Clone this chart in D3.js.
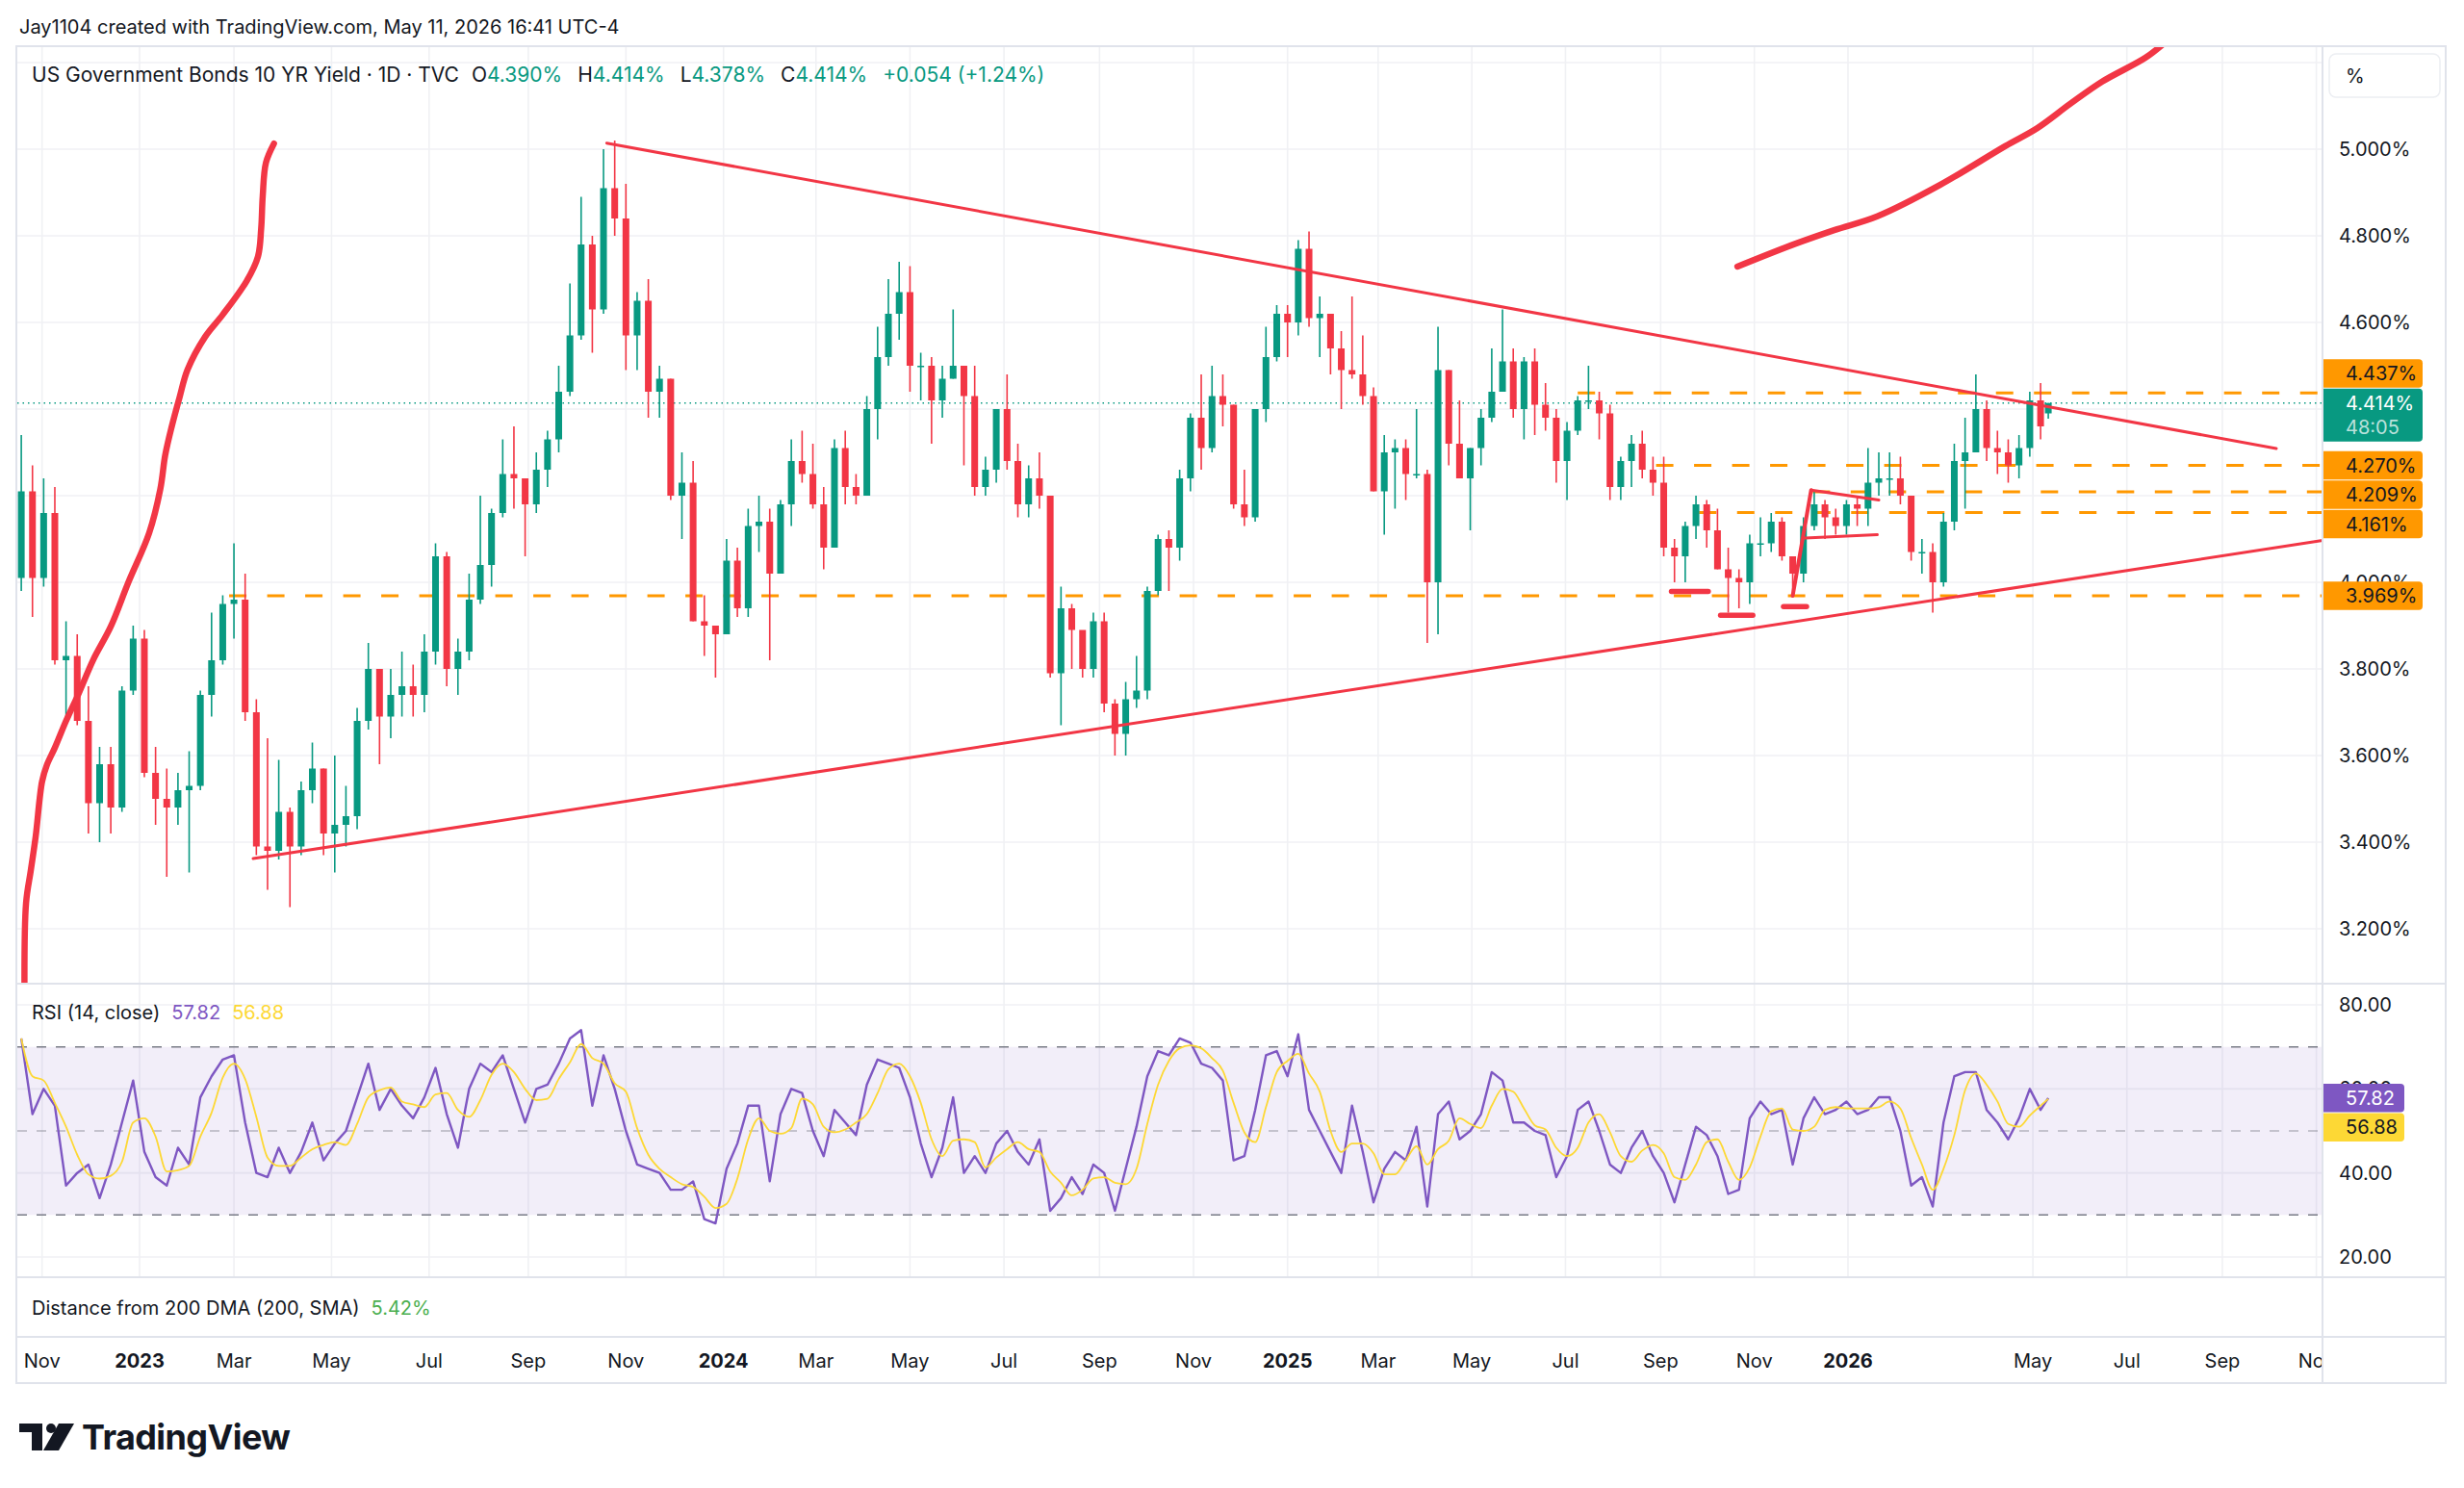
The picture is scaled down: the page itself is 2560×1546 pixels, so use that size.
<!DOCTYPE html>
<html>
<head>
<meta charset="utf-8">
<script src="https://cdn.jsdelivr.net/npm/d3@7/dist/d3.min.js"></script>
<style>
  body { margin: 0; background: #fff; }
  text { font-family: Inter, "Noto Sans", sans-serif; fill: #131722; }
</style>
</head>
<body>
<svg id="chart"></svg>
<script>
// ---- weekly bars, US10Y (TVC): Oct 17 2022 .. May 11 2026 ----
const firstWeek = "2022-10-17";
const lastSession = "2026-05-11";
const firstOpen = 4.01;
const lastOpen = 4.390;

const weekClose = [
  4.21,4.01,4.16,3.82,3.83,3.68,3.49,3.58,3.48,3.75,3.87,
  3.56,3.50,3.48,3.52,3.53,3.74,3.82,3.95,3.96,3.70,3.39,3.38,3.47,3.39,3.52,3.57,3.42,3.44,3.46,3.68,3.80,3.69,3.74,3.76,3.74,3.84,4.06,3.80,3.84,3.96,4.04,4.16,4.25,4.24,4.18,4.26,4.33,4.44,4.57,4.78,4.63,4.91,4.84,4.57,4.65,4.44,4.47,4.20,4.23,3.91,3.90,3.88,
  4.05,3.94,4.13,4.14,4.02,4.18,4.28,4.25,4.18,4.08,4.31,4.22,4.20,4.40,4.52,4.62,4.67,4.50,4.50,4.42,4.47,4.50,4.43,4.22,4.26,4.40,4.28,4.18,4.24,4.20,3.79,3.94,3.89,3.80,3.91,3.72,3.65,3.73,3.75,3.98,4.10,4.08,4.24,4.38,4.31,4.43,4.41,4.18,4.15,4.40,4.52,4.62,4.60,
  4.77,4.61,4.62,4.54,4.49,4.48,4.43,4.21,4.30,4.31,4.25,4.25,4.00,4.49,4.32,4.24,4.31,4.38,4.44,4.51,4.40,4.51,4.41,4.38,4.28,4.35,4.42,4.42,4.39,4.22,4.28,4.32,4.26,4.23,4.08,4.06,4.13,4.18,4.12,4.03,4.01,4.00,4.09,4.09,4.14,4.06,4.02,4.13,4.18,4.15,4.13,4.18,
  4.17,4.23,4.24,4.24,4.20,4.07,4.07,4.00,4.14,4.28,4.30,4.40,4.31,4.30,4.27,4.31,4.42,4.36,4.414
];
const weekHigh = [
  4.34,4.27,4.24,4.22,3.91,3.88,3.76,3.62,3.62,3.76,3.90,
  3.89,3.62,3.57,3.56,3.61,3.75,3.93,3.97,4.09,4.02,3.73,3.64,3.59,3.48,3.54,3.63,3.57,3.60,3.53,3.71,3.86,3.80,3.80,3.84,3.81,3.88,4.09,4.07,3.87,4.02,4.20,4.17,4.33,4.36,4.24,4.30,4.35,4.50,4.69,4.89,4.80,5.00,5.02,4.92,4.67,4.70,4.50,4.47,4.30,4.28,3.97,3.90,
  4.10,4.08,4.17,4.20,4.17,4.19,4.33,4.35,4.32,4.22,4.33,4.35,4.25,4.43,4.59,4.70,4.74,4.73,4.53,4.52,4.50,4.63,4.50,4.50,4.29,4.40,4.48,4.32,4.27,4.30,4.20,3.99,3.95,3.88,3.93,3.93,3.73,3.77,3.83,3.99,4.11,4.12,4.26,4.39,4.48,4.50,4.48,4.41,4.26,4.40,4.59,4.64,4.64,
  4.79,4.81,4.66,4.62,4.58,4.66,4.57,4.45,4.34,4.33,4.33,4.40,4.26,4.59,4.49,4.42,4.31,4.40,4.54,4.63,4.54,4.52,4.54,4.46,4.40,4.37,4.43,4.50,4.44,4.41,4.29,4.34,4.35,4.29,4.29,4.10,4.14,4.20,4.19,4.17,4.08,4.03,4.11,4.15,4.16,4.15,4.06,4.15,4.21,4.19,4.17,4.19,
  4.20,4.31,4.30,4.30,4.29,4.20,4.10,4.09,4.16,4.32,4.38,4.48,4.42,4.35,4.33,4.34,4.44,4.46,4.414
];
const weekLow = [
  3.98,3.92,3.99,3.81,3.67,3.67,3.42,3.40,3.42,3.47,3.74,
  3.55,3.44,3.32,3.44,3.33,3.52,3.69,3.81,3.87,3.68,3.37,3.29,3.36,3.25,3.37,3.49,3.37,3.33,3.39,3.43,3.66,3.58,3.64,3.69,3.69,3.70,3.81,3.76,3.74,3.82,3.95,3.99,4.15,4.17,4.06,4.16,4.22,4.30,4.43,4.56,4.53,4.62,4.80,4.49,4.49,4.38,4.38,4.19,4.10,3.91,3.83,3.78,
  3.88,3.92,3.92,4.07,3.82,4.02,4.13,4.23,4.17,4.03,4.08,4.18,4.18,4.20,4.33,4.50,4.56,4.44,4.42,4.32,4.38,4.47,4.27,4.20,4.20,4.23,4.26,4.15,4.15,4.17,3.78,3.67,3.80,3.78,3.78,3.70,3.60,3.60,3.71,3.73,3.97,3.98,4.05,4.21,4.26,4.30,4.36,4.17,4.13,4.14,4.37,4.51,4.52,
  4.57,4.59,4.52,4.48,4.40,4.47,4.41,4.21,4.11,4.17,4.19,4.24,3.86,3.88,4.27,4.24,4.12,4.27,4.37,4.44,4.38,4.33,4.34,4.35,4.23,4.19,4.34,4.40,4.33,4.19,4.19,4.22,4.24,4.20,4.06,4.00,4.00,4.10,4.08,4.03,3.93,3.94,3.95,4.06,4.07,4.05,3.97,4.00,4.12,4.10,4.11,4.11,
  4.13,4.13,4.20,4.20,4.18,4.05,4.02,3.93,3.99,4.12,4.17,4.30,4.28,4.25,4.23,4.24,4.29,4.33,4.378
];
// RSI(14) sampled once a week from the lower pane
const rsi14 = [
  72,54,60,56,37,40,42,34,42,52,62,
  45,39,37,46,42,58,63,67,68,52,40,39,46,40,45,52,43,47,50,58,66,55,60,56,53,58,65,54,46,60,66,64,68,60,52,60,61,66,72,74,56,68,60,50,42,41,40,36,36,38,29,28,
  41,47,56,56,38,54,60,59,50,44,55,52,49,61,67,66,65,58,47,39,46,58,40,44,40,47,50,45,42,48,31,34,39,35,42,40,31,41,51,63,69,68,72,71,66,65,62,43,44,55,68,69,63,
  73,55,50,45,40,56,45,33,41,45,43,51,32,54,57,48,50,54,64,62,52,52,50,49,39,44,55,57,50,42,40,46,50,44,40,33,42,51,49,44,35,36,53,57,54,55,42,53,58,54,55,57,
  54,55,58,58,50,37,39,32,52,63,64,64,55,52,48,53,60,55,57.82
];

// horizontal levels (orange dashed) and their start dates
const levelValues = [3.969, 4.437, 4.270, 4.209, 4.161];
const levelStarts = ["2023-02-26", "2025-07-09", "2025-08-29", "2025-12-09", "2025-09-26"];

// hand drawings (date, yield)
const upperTrend = [["2023-10-20", 5.014], ["2026-10-06", 4.309]];
const lowerTrend = [["2023-03-13", 3.362], ["2026-11-04", 4.096]];
const leftCurve = [
  ["2022-10-21", 3.05], ["2022-10-22", 3.26], ["2022-10-25", 3.336], ["2022-10-28", 3.413],
  ["2022-11-01", 3.54], ["2022-11-04", 3.578], ["2022-11-09", 3.618], ["2022-11-16", 3.68],
  ["2022-11-24", 3.744], ["2022-12-03", 3.821], ["2022-12-14", 3.898], ["2022-12-25", 4.0],
  ["2023-01-07", 4.114], ["2023-01-14", 4.216], ["2023-01-17", 4.293], ["2023-01-21", 4.358],
  ["2023-01-26", 4.427], ["2023-01-31", 4.491], ["2023-02-11", 4.567], ["2023-02-22", 4.618],
  ["2023-03-09", 4.696], ["2023-03-16", 4.752], ["2023-03-18", 4.816], ["2023-03-19", 4.893],
  ["2023-03-21", 4.969], ["2023-03-26", 5.013]
];
const rightCurve = [
  ["2025-10-21", 4.729], ["2025-11-25", 4.778], ["2025-12-23", 4.813], ["2026-01-20", 4.845],
  ["2026-03-02", 4.918], ["2026-04-13", 5.007], ["2026-05-04", 5.049], ["2026-05-25", 5.104],
  ["2026-06-15", 5.156], ["2026-07-13", 5.211], ["2026-07-25", 5.244]
];
const bottomMarks = [
  ["2025-09-08", "2025-10-02", 3.979],
  ["2025-10-10", "2025-10-31", 3.924],
  ["2025-11-20", "2025-12-05", 3.944]
];
const flagPole = [["2025-11-26", 3.969], ["2025-12-08", 4.213]];
const flagUpper = [["2025-12-08", 4.213], ["2026-01-21", 4.190]];
const flagLower = [["2025-12-04", 4.102], ["2026-01-20", 4.110]];

// axis ticks
const timeTickDates = ["2022-11-01","2023-01-01","2023-03-01","2023-05-01","2023-07-01","2023-09-01","2023-11-01",
  "2024-01-01","2024-03-01","2024-05-01","2024-07-01","2024-09-01","2024-11-01",
  "2025-01-01","2025-03-01","2025-05-01","2025-07-01","2025-09-01","2025-11-01",
  "2026-01-01","2026-05-01","2026-07-01","2026-09-01","2026-11-01"];
const timeTickLabels = ["Nov","2023","Mar","May","Jul","Sep","Nov","2024","Mar","May","Jul","Sep","Nov",
  "2025","Mar","May","Jul","Sep","Nov","2026","May","Jul","Sep","Nov"];
const priceTicks = [3.2, 3.4, 3.6, 3.8, 4.0, 4.2, 4.4, 4.6, 4.8, 5.0];
const rsiTicks = [20, 40, 60, 80];

const headerText = "Jay1104 created with TradingView.com, May 11, 2026 16:41 UTC-4";
const symbolText = "US Government Bonds 10 YR Yield · 1D · TVC";
const ohlcText = [["O", "4.390%"], ["H", "4.414%"], ["L", "4.378%"], ["C", "4.414%"]];
const changeText = "+0.054 (+1.24%)";
const lastPrice = 4.414;
const countdown = "48:05";
const rsiLast = 57.82, rsiMaLast = 56.88;
const dmaLast = "5.42%";

// ---- layout ----
const W = 2560, H = 1546;
const L = 18, R = 2412;
const mainTop = 49, mainBot = 1022, rsiBot = 1327, dmaBot = 1389, axisBot = 1437;
const UP = "#089981", DOWN = "#f23645", ORANGE = "#ff9800", DRAW = "#f23645";
const parse = d3.timeParse("%Y-%m-%d");

const svg = d3.select("#chart").attr("width", W).attr("height", H);
svg.append("rect").attr("width", W).attr("height", H).attr("fill", "#fff");

// TradingView spaces sessions, not calendar days, so the time scale is stitched per year
const x = d3.scaleTime()
  .domain(["2022-11-01","2023-01-01","2024-01-01","2025-01-01","2026-01-01","2026-11-01"].map(parse))
  .range([43.7, 145, 751.7, 1337.7, 1920, 2406.6]);
const y = d3.scaleLinear().domain([5, 3.2]).range([155, 965]);
const yR = d3.scaleLinear().domain([80, 20]).range([1044, 1306]);

const mondays = d3.timeMonday.range(parse(firstWeek), d3.timeDay.offset(parse(lastSession), 1));
const n = mondays.length;
const bars = mondays.map((m, i) => ({
  date: i === n - 1 ? parse(lastSession) : d3.timeDay.offset(m, 2),
  open: i === 0 ? firstOpen : (i === n - 1 ? lastOpen : weekClose[i - 1]),
  high: weekHigh[i], low: weekLow[i], close: weekClose[i], rsi: rsi14[i]
}));

const defs = svg.append("defs");
defs.append("clipPath").attr("id", "clipMain").append("rect")
  .attr("x", L).attr("y", mainTop).attr("width", R - L).attr("height", mainBot - mainTop);
defs.append("clipPath").attr("id", "clipRsi").append("rect")
  .attr("x", L).attr("y", mainBot).attr("width", R - L).attr("height", rsiBot - mainBot);
defs.append("clipPath").attr("id", "clipTime").append("rect")
  .attr("x", L).attr("y", dmaBot).attr("width", R - L).attr("height", axisBot - dmaBot);

// ---- grid ----
const grid = svg.append("g").attr("stroke", "#f0f1f4").attr("stroke-width", 1.6);
const tickDates = timeTickDates.map(parse);
grid.selectAll(".vg").data(tickDates).join("line")
  .attr("x1", d => x(d)).attr("x2", d => x(d)).attr("y1", mainTop).attr("y2", rsiBot);
grid.selectAll(".hg").data(d3.range(3.2, 5.3, 0.2)).join("line").attr("class", "hg")
  .attr("x1", L).attr("x2", R).attr("y1", d => y(d)).attr("y2", d => y(d));
grid.selectAll(".rg").data(rsiTicks).join("line").attr("class", "rg")
  .attr("x1", L).attr("x2", R).attr("y1", d => yR(d)).attr("y2", d => yR(d));

// ---- main pane ----
const main = svg.append("g").attr("clip-path", "url(#clipMain)");

main.selectAll(".lvl").data(levelValues).join("line")
  .attr("x1", (d, i) => x(parse(levelStarts[i]))).attr("x2", R)
  .attr("y1", d => y(d)).attr("y2", d => y(d))
  .attr("stroke", ORANGE).attr("stroke-width", 3).attr("stroke-dasharray", "18,21.5");

main.append("line").attr("x1", L).attr("x2", R).attr("y1", y(lastPrice)).attr("y2", y(lastPrice))
  .attr("stroke", UP).attr("stroke-width", 1.5).attr("stroke-dasharray", "1.5,4");

const candle = main.selectAll(".c").data(bars).join("g")
  .attr("fill", d => d.close >= d.open ? UP : DOWN)
  .attr("stroke", d => d.close >= d.open ? UP : DOWN);
candle.append("line")
  .attr("x1", d => x(d.date)).attr("x2", d => x(d.date))
  .attr("y1", d => y(d.high)).attr("y2", d => y(d.low)).attr("stroke-width", 1.6);
candle.append("rect")
  .attr("x", d => x(d.date) - 3.5).attr("width", 7)
  .attr("y", d => y(Math.max(d.open, d.close)))
  .attr("height", d => Math.max(1.5, Math.abs(y(d.open) - y(d.close))))
  .attr("stroke", "none");

const pt = d => [x(parse(d[0])), y(d[1])];
const straight = d3.line().x(d => pt(d)[0]).y(d => pt(d)[1]);
const smooth = d3.line().x(d => pt(d)[0]).y(d => pt(d)[1]).curve(d3.curveCatmullRom.alpha(0.5));

[upperTrend, lowerTrend, flagUpper, flagLower].forEach(seg => {
  main.append("path").attr("d", straight(seg)).attr("fill", "none")
    .attr("stroke", DRAW).attr("stroke-width", 3).attr("stroke-linecap", "round");
});
main.append("path").attr("d", straight(flagPole)).attr("fill", "none")
  .attr("stroke", DRAW).attr("stroke-width", 4).attr("stroke-linecap", "round");
[leftCurve, rightCurve].forEach(c => {
  main.append("path").attr("d", smooth(c)).attr("fill", "none")
    .attr("stroke", DRAW).attr("stroke-width", 6.5).attr("stroke-linecap", "round").attr("stroke-linejoin", "round");
});
main.selectAll(".bm").data(bottomMarks).join("line")
  .attr("x1", d => x(parse(d[0]))).attr("x2", d => x(parse(d[1])))
  .attr("y1", d => y(d[2])).attr("y2", d => y(d[2]))
  .attr("stroke", DRAW).attr("stroke-width", 5.5).attr("stroke-linecap", "round");

// ---- RSI pane ----
const rp = svg.append("g").attr("clip-path", "url(#clipRsi)");
rp.append("rect").attr("x", L).attr("width", R - L).attr("y", yR(70)).attr("height", yR(30) - yR(70))
  .attr("fill", "rgba(126,87,194,0.1)");
rp.selectAll(".band").data([70, 50, 30]).join("line")
  .attr("x1", L).attr("x2", R).attr("y1", d => yR(d)).attr("y2", d => yR(d))
  .attr("stroke", d => d === 50 ? "rgba(120,123,134,0.5)" : "#787b86")
  .attr("stroke-width", 1.5).attr("stroke-dasharray", "10,10");
const rsiMa = rsi14.map((v, i) => d3.mean(rsi14.slice(Math.max(0, i - 2), i + 1)));
rp.append("path").datum(bars).attr("fill", "none").attr("stroke", "#7e57c2").attr("stroke-width", 2.4)
  .attr("stroke-linejoin", "round")
  .attr("d", d3.line().x(d => x(d.date)).y(d => yR(d.rsi)));
rp.append("path").datum(bars).attr("fill", "none").attr("stroke", "#fdd835").attr("stroke-width", 1.8)
  .attr("d", d3.line().x(d => x(d.date)).y((d, i) => yR(rsiMa[i])).curve(d3.curveMonotoneX));

// ---- frame and separators ----
const sep = svg.append("g").attr("stroke", "#e0e3eb").attr("stroke-width", 2);
sep.append("rect").attr("x", 17).attr("y", 48).attr("width", 2524).attr("height", axisBot - 48).attr("fill", "none");
[mainBot, rsiBot, dmaBot].forEach(v => sep.append("line").attr("x1", 17).attr("x2", 2541).attr("y1", v).attr("y2", v));
sep.append("line").attr("x1", R + 1).attr("x2", R + 1).attr("y1", 48).attr("y2", axisBot);

// ---- price tags on the scale: work out where they sit first ----
const tagH = 29.5;
const curY = y(lastPrice), curTop = curY - 15, curBot = curTop + 55;
const levelTags = [];
let edge = curTop;
levelValues.filter(v => v > lastPrice).sort((a, b) => a - b).forEach(v => {
  const cy = Math.min(y(v), edge - tagH / 2 - 1);
  edge = cy - tagH / 2;
  levelTags.push({ v, cy });
});
edge = curBot;
levelValues.filter(v => v < lastPrice).sort((a, b) => b - a).forEach(v => {
  const cy = Math.max(y(v), edge + tagH / 2 + 1);
  edge = cy + tagH / 2;
  levelTags.push({ v, cy });
});
const rsiY = yR(rsiLast);
const maY = Math.max(yR(rsiMaLast), rsiY + tagH + 1);

const spans = [[curTop, curBot]].concat(levelTags.map(t => [t.cy - tagH / 2, t.cy + tagH / 2]),
  [[rsiY - tagH / 2, maY + tagH / 2]]);
const hidden = cy => spans.some(([a, b]) => cy - 10 >= a && cy + 10 <= b);

// ---- axes ----
svg.append("g").selectAll("text").data(priceTicks.filter(d => !hidden(y(d)))).join("text")
  .attr("x", 2430).attr("y", d => y(d)).attr("dominant-baseline", "central")
  .attr("font-size", 20).text(d => d.toFixed(3) + "%");
svg.append("g").selectAll("text").data(rsiTicks.filter(d => !hidden(yR(d)))).join("text")
  .attr("x", 2430).attr("y", d => yR(d)).attr("dominant-baseline", "central")
  .attr("font-size", 20).text(d => d.toFixed(2));
svg.append("g").attr("clip-path", "url(#clipTime)").selectAll("text").data(tickDates).join("text")
  .attr("x", d => x(d)).attr("y", 1414).attr("text-anchor", "middle").attr("dominant-baseline", "central")
  .attr("font-size", 20).attr("font-weight", (d, i) => /^\d/.test(timeTickLabels[i]) ? 700 : 400)
  .text((d, i) => timeTickLabels[i]);

const unitBox = svg.append("g");
unitBox.append("rect").attr("x", 2420).attr("y", 56).attr("width", 115).attr("height", 45).attr("rx", 7)
  .attr("fill", "#fff").attr("stroke", "#eceef2").attr("stroke-width", 1.5);
unitBox.append("text").attr("x", 2437).attr("y", 79).attr("dominant-baseline", "central")
  .attr("font-size", 20).text("%");

// ---- draw the tags ----
function tag(cy, h, w, fill) {
  const x0 = R + 2, top = cy - h / 2, r = 4;
  svg.append("path").attr("fill", fill)
    .attr("d", `M${x0},${top}H${x0 + w - r}A${r},${r} 0 0 1 ${x0 + w},${top + r}V${top + h - r}A${r},${r} 0 0 1 ${x0 + w - r},${top + h}H${x0}Z`);
}
function tagText(cy, str, color) {
  svg.append("text").attr("x", 2437).attr("y", cy).attr("dominant-baseline", "central")
    .attr("font-size", 20).style("fill", color).text(str);
}
tag((curTop + curBot) / 2, 55, 103, UP);
tagText(curY, lastPrice.toFixed(3) + "%", "#fff");
tagText(curY + 25, countdown, "rgba(255,255,255,0.72)");
levelTags.forEach(t => {
  tag(t.cy, tagH, 103, ORANGE);
  tagText(t.cy, t.v.toFixed(3) + "%", "#131722");
});
tag(rsiY, tagH, 84, "#7e57c2");
tagText(rsiY, rsiLast.toFixed(2), "#fff");
tag(maY, tagH, 84, "#fdd835");
tagText(maY, rsiMaLast.toFixed(2), "#131722");

// ---- legends ----
svg.append("text").attr("x", 20).attr("y", 28).attr("dominant-baseline", "central")
  .attr("font-size", 20).text(headerText);

const lg = svg.append("text").attr("x", 33).attr("y", 77).attr("dominant-baseline", "central").attr("font-size", 21);
lg.append("tspan").text(symbolText);
ohlcText.forEach(([k, v], i) => {
  lg.append("tspan").attr("dx", i === 0 ? 13 : 16).text(k);
  lg.append("tspan").style("fill", UP).text(v);
});
lg.append("tspan").attr("dx", 16).style("fill", UP).text(changeText);

const rl = svg.append("text").attr("x", 33).attr("y", 1052).attr("dominant-baseline", "central").attr("font-size", 20);
rl.append("tspan").text("RSI (14, close)");
rl.append("tspan").attr("dx", 12).style("fill", "#7e57c2").text(rsiLast.toFixed(2));
rl.append("tspan").attr("dx", 12).style("fill", "#fdd835").text(rsiMaLast.toFixed(2));

const dl = svg.append("text").attr("x", 33).attr("y", 1359).attr("dominant-baseline", "central").attr("font-size", 20);
dl.append("tspan").text("Distance from 200 DMA (200, SMA)");
dl.append("tspan").attr("dx", 12).style("fill", "#4caf50").text(dmaLast);

// ---- TradingView mark ----
const logo = svg.append("g").attr("fill", "#131722");
logo.append("path").attr("d", "M20,1479H44V1507H33V1488H20Z");
logo.append("circle").attr("cx", 53).attr("cy", 1484).attr("r", 5);
logo.append("path").attr("d", "M61,1479H77L61,1507H45Z");
svg.append("text").attr("x", 85).attr("y", 1493).attr("dominant-baseline", "central")
  .attr("font-size", 36).attr("font-weight", 700).attr("letter-spacing", -0.6).text("TradingView");
</script>
</body>
</html>
